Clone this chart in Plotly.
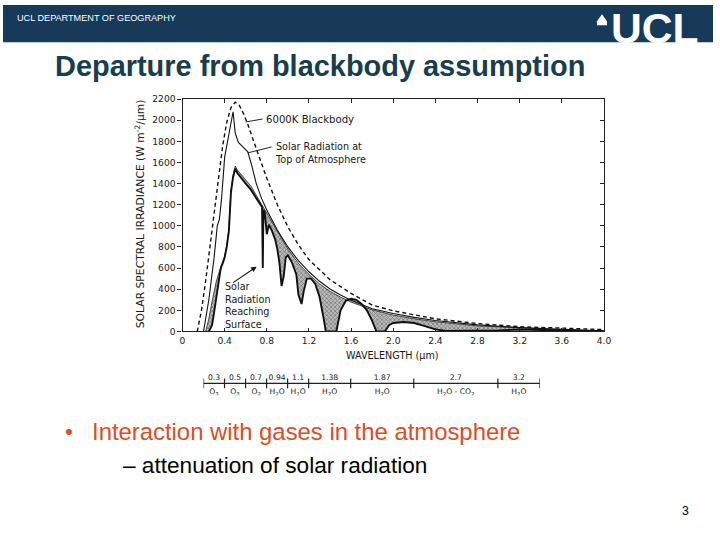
import plotly.graph_objects as go

# ---------------- data ----------------
bb_wl  = [0.14, 0.18, 0.22, 0.26, 0.30, 0.34, 0.38, 0.42, 0.46, 0.50, 0.54, 0.58, 0.62, 0.70, 0.80, 0.90, 1.00, 1.10, 1.20, 1.40, 1.60, 1.80, 2.00, 2.40, 2.80, 3.20, 3.60, 4.00]
bb_irr = [0, 200, 480, 800, 1130, 1450, 1750, 1980, 2120, 2170, 2140, 2060, 1960, 1730, 1450, 1200, 990, 820, 680, 490, 360, 250, 195, 120, 75, 45, 28, 18]

toa_wl  = [0.20, 0.25, 0.30, 0.33, 0.35, 0.37, 0.40, 0.43, 0.46, 0.48, 0.50, 0.53, 0.58, 0.62, 0.66, 0.70, 0.75, 0.80, 0.90, 1.00, 1.10, 1.20, 1.30, 1.40, 1.50, 1.60, 1.80, 2.00, 2.20, 2.40, 2.80, 3.20, 3.60, 4.00]
toa_irr = [0, 300, 700, 1000, 1060, 1250, 1650, 1800, 1950, 2080, 1880, 1790, 1740, 1700, 1560, 1400, 1260, 1150, 960, 800, 670, 565, 475, 402, 345, 296, 215, 170, 133, 104, 62, 37, 20, 7]

env_wl  = [0.22, 0.25, 0.28, 0.30, 0.32, 0.34, 0.36, 0.38, 0.40, 0.42, 0.44, 0.45, 0.46, 0.48, 0.50, 0.52, 0.55, 0.60, 0.65, 0.70, 0.75, 0.80, 0.85, 0.90, 0.95, 1.00, 1.10, 1.20, 1.30, 1.40, 1.50, 1.60, 1.80, 2.00, 2.20, 2.40, 2.80, 3.20, 3.60, 4.00]
env_irr = [0, 120, 280, 380, 470, 540, 600, 650, 715, 815, 965, 1165, 1335, 1480, 1565, 1530, 1495, 1440, 1375, 1290, 1205, 1120, 1030, 940, 860, 780, 645, 540, 450, 380, 325, 278, 205, 155, 120, 92, 53, 31, 16, 4]

sfc_wl  = [0.25, 0.28, 0.30, 0.32, 0.34, 0.36, 0.37, 0.38, 0.40, 0.42, 0.44, 0.45, 0.46, 0.48, 0.50, 0.52, 0.55, 0.60, 0.65, 0.70, 0.72, 0.74, 0.755, 0.762, 0.768, 0.78, 0.80, 0.82, 0.85, 0.88, 0.90, 0.92, 0.94, 0.96, 0.98, 1.00, 1.04, 1.08, 1.10, 1.13, 1.15, 1.18, 1.22, 1.26, 1.30, 1.34, 1.36, 1.46, 1.50, 1.55, 1.60, 1.65, 1.70, 1.75, 1.80, 1.84, 1.92, 1.96, 2.00, 2.10, 2.20, 2.30, 2.40, 2.50, 2.90, 3.00, 3.20, 3.40, 3.60, 3.80, 4.00]
sfc_irr = [0, 60, 180, 330, 480, 580, 620, 640, 700, 800, 950, 1150, 1320, 1460, 1540, 1500, 1460, 1400, 1340, 1270, 1230, 1200, 1180, 600, 1150, 1130, 920, 1010, 950, 870, 780, 650, 430, 520, 700, 720, 650, 540, 350, 260, 380, 500, 500, 450, 330, 120, 0, 0, 200, 290, 310, 300, 260, 200, 100, 0, 0, 60, 80, 90, 80, 50, 20, 5, 5, 10, 18, 15, 10, 5, 0]

y_ticks = [0, 200, 400, 600, 800, 1000, 1200, 1400, 1600, 1800, 2000, 2200]
x_ticks = [0, 0.4, 0.8, 1.2, 1.6, 2.0, 2.4, 2.8, 3.2, 3.6, 4.0]
x_tick_labels = ["0", "0.4", "0.8", "1.2", "1.6", "2.0", "2.4", "2.8", "3.2", "3.6", "4.0"]

band_centres = ["0.3", "0.5", "0.7", "0.94", "1.1", "1.38", "1.87", "2.7", "3.2"]
band_gases = ["O<sub>3</sub>", "O<sub>3</sub>", "O<sub>2</sub>", "H<sub>2</sub>O", "H<sub>2</sub>O",
              "H<sub>2</sub>O", "H<sub>2</sub>O", "H<sub>2</sub>O - CO<sub>2</sub>", "H<sub>2</sub>O"]
band_widths = [1, 1, 1, 1, 1, 2, 3, 4, 2]

# ---------------- helpers ----------------
W, H = 720, 540
# small correction for the way the page is captured (measured on earlier renders)
AXOFF, AYOFF, SX, SY = 2.7, 3.7, 0.985, 0.984
def X(px):
    return ((px - AXOFF) / SX) / W
def Y(py):
    return 1 - ((py - AYOFF) / SY) / H
def F(size):
    return round(size / SX, 2)

bounds = [0]
for w in band_widths:
    bounds.append(bounds[-1] + w)
centres = [(bounds[i] + bounds[i + 1]) / 2 for i in range(len(band_widths))]

FIGFONT = "DejaVu Sans, Verdana, sans-serif"
AX_FONT = dict(family=FIGFONT, size=F(9), color="#1a1a1a")

fig = go.Figure()

# hatched absorption region: envelope then surface filled to it
fig.add_trace(go.Scatter(x=env_wl, y=env_irr, mode="lines",
                         line=dict(color="#222", width=0.8), hoverinfo="skip"))
fig.add_trace(go.Scatter(x=sfc_wl, y=sfc_irr, mode="lines", fill="tonexty",
                         fillcolor="rgba(120,120,120,0.6)",
                         fillpattern=dict(shape="x", fgcolor="#222", bgcolor="rgba(160,160,160,0.7)", size=3, solidity=0.4),
                         line=dict(color="#111", width=1.9), hoverinfo="skip"))
# top of atmosphere
fig.add_trace(go.Scatter(x=toa_wl, y=toa_irr, mode="lines",
                         line=dict(color="#111", width=1.1), hoverinfo="skip"))
# blackbody
fig.add_trace(go.Scatter(x=bb_wl, y=bb_irr, mode="lines",
                         line=dict(color="#111", width=1.4, dash="4px,3px"), hoverinfo="skip"))

# mirrored frame axes (top / right) with inward ticks
fig.add_trace(go.Scatter(x=[0], y=[0], xaxis="x3", yaxis="y3", mode="markers",
                         marker=dict(opacity=0), hoverinfo="skip"))

# absorption band strip
fig.add_trace(go.Scatter(x=[bounds[0], bounds[-1]], y=[0, 0], xaxis="x2", yaxis="y2",
                         mode="lines", line=dict(color="#222", width=1.2), hoverinfo="skip"))
fig.add_trace(go.Scatter(x=bounds, y=[0] * len(bounds), xaxis="x2", yaxis="y2",
                         mode="markers", marker=dict(symbol="line-ns-open", size=7, color="#222",
                                                     line=dict(color="#222", width=1.2)),
                         hoverinfo="skip"))
fig.add_trace(go.Scatter(x=centres, y=[0.45] * len(centres), xaxis="x2", yaxis="y2",
                         mode="text", text=band_centres,
                         textfont=dict(family=FIGFONT, size=F(7.5), color="#222"),
                         hoverinfo="skip"))
fig.add_trace(go.Scatter(x=centres, y=[-0.75] * len(centres), xaxis="x2", yaxis="y2",
                         mode="text", text=band_gases,
                         textfont=dict(family=FIGFONT, size=F(7.5), color="#222"),
                         hoverinfo="skip"))

plot_x = [X(182), X(603)]
plot_y = [Y(331), Y(98)]

fig.update_layout(
    width=W, height=H, margin=dict(l=0, r=0, t=0, b=0),
    paper_bgcolor="white", plot_bgcolor="rgba(0,0,0,0)", showlegend=False,
    xaxis=dict(domain=plot_x, range=[0, 4], tickvals=x_ticks, ticktext=x_tick_labels,
               ticks="inside", ticklen=3, tickcolor="#222", showline=True, linecolor="#222",
               linewidth=1.3, showgrid=False, zeroline=False, tickfont=AX_FONT, anchor="y"),
    yaxis=dict(domain=plot_y, range=[0, 2200], tickvals=y_ticks, ticks="outside", ticklen=4,
               tickcolor="#222", showline=True, linecolor="#222", linewidth=1.3,
               showgrid=False, zeroline=False, tickfont=AX_FONT, anchor="x"),
    xaxis3=dict(domain=plot_x, range=[0, 4], tickvals=x_ticks, overlaying="x", side="top",
                anchor="y3", ticks="inside", ticklen=4, tickcolor="#222", showline=True,
                linecolor="#222", linewidth=1.3, showticklabels=False, showgrid=False,
                zeroline=False),
    yaxis3=dict(domain=plot_y, range=[0, 2200], tickvals=y_ticks, overlaying="y", side="right",
                anchor="x3", ticks="inside", ticklen=4, tickcolor="#222", showline=True,
                linecolor="#222", linewidth=1.3, showticklabels=False, showgrid=False,
                zeroline=False),
    xaxis2=dict(domain=[X(203), X(539)], range=[0, sum(band_widths)], visible=False, anchor="y2"),
    yaxis2=dict(domain=[Y(395), Y(371)], range=[-1, 1], visible=False, anchor="x2"),
)

# header bar
shapes = [
    dict(type="rect", xref="paper", yref="paper", x0=0, x1=1, y0=Y(41), y1=1,
         fillcolor="#183a59", line=dict(width=0), layer="below"),
    # little dome mark of logo
    dict(type="path", xref="paper", yref="paper",
         path=f"M {X(596)} {Y(24)} L {X(606)} {Y(24)} L {X(606)} {Y(20)} L {X(601)} {Y(13)} L {X(596)} {Y(20)} Z",
         fillcolor="white", line=dict(width=0)),
    # label pointers
    dict(type="line", xref="paper", yref="paper", x0=X(245), y0=Y(121), x1=X(262), y1=Y(118),
         line=dict(color="#222", width=1)),
    dict(type="line", xref="paper", yref="paper", x0=X(247), y0=Y(152), x1=X(271), y1=Y(146),
         line=dict(color="#222", width=1)),
]
fig.update_layout(shapes=shapes)

BODY = "Liberation Sans, Arial, sans-serif"
ann = [
    dict(text="UCL DEPARTMENT OF GEOGRAPHY", x=X(15), y=Y(17), xanchor="left", yanchor="middle",
         font=dict(family=BODY, size=F(9), color="white")),
    dict(text="<b>UCL</b>", x=X(654), y=Y(27), xanchor="center", yanchor="middle",
         font=dict(family=BODY, size=F(42), color="white")),
    dict(text="<b>Departure from blackbody assumption</b>", x=X(53), y=Y(65), xanchor="left",
         yanchor="middle", font=dict(family=BODY, size=F(28.5), color="#173d4e")),
    dict(text="SOLAR SPECTRAL IRRADIANCE (W m<sup>-2</sup>/μm)", x=X(140), y=Y(213),
         textangle=-90, xanchor="center", yanchor="middle",
         font=dict(family=FIGFONT, size=F(10.6), color="#1a1a1a")),
    dict(text="WAVELENGTH (μm)", x=X(392), y=Y(355), xanchor="center", yanchor="middle",
         font=dict(family=FIGFONT, size=F(9.5), color="#1a1a1a")),
    dict(text="6000K Blackbody", x=X(263), y=Y(118), xanchor="left", yanchor="middle",
         font=dict(family=FIGFONT, size=F(10), color="#1a1a1a")),
    dict(text="Solar Radiation at<br>Top of Atmosphere", x=X(272), y=Y(152), xanchor="left",
         yanchor="middle", align="left", font=dict(family=FIGFONT, size=F(9.5), color="#1a1a1a")),
    dict(text="Solar<br>Radiation<br>Reaching<br>Surface", x=X(222), y=Y(305), xanchor="left",
         yanchor="middle", align="left", font=dict(family=FIGFONT, size=F(9.5), color="#1a1a1a")),
    dict(text="", x=X(256), y=Y(266), ax=-25, ay=17, showarrow=True, arrowhead=2,
         arrowsize=1, arrowwidth=1.1, arrowcolor="#111"),
    dict(text="•", x=X(63), y=Y(431), xanchor="left", yanchor="middle",
         font=dict(family=BODY, size=F(22), color="#d4502a")),
    dict(text="Interaction with gases in the atmosphere", x=X(90), y=Y(431), xanchor="left",
         yanchor="middle", font=dict(family=BODY, size=F(23.5), color="#d4502a")),
    dict(text="– attenuation of solar radiation", x=X(121), y=Y(465), xanchor="left",
         yanchor="middle", font=dict(family=BODY, size=F(22.3), color="black")),
    dict(text="3", x=X(684), y=Y(511), xanchor="center", yanchor="middle",
         font=dict(family=BODY, size=F(12), color="black")),
]
for a in ann:
    a.setdefault("xref", "paper")
    a.setdefault("yref", "paper")
    a.setdefault("showarrow", False)
fig.update_layout(annotations=ann)

fig.write_html("out.html", config={"displayModeBar": False},
               post_script="document.documentElement.style.margin='0';document.body.style.margin='0';"
                           "document.documentElement.style.overflow='hidden';document.body.style.overflow='hidden';")
